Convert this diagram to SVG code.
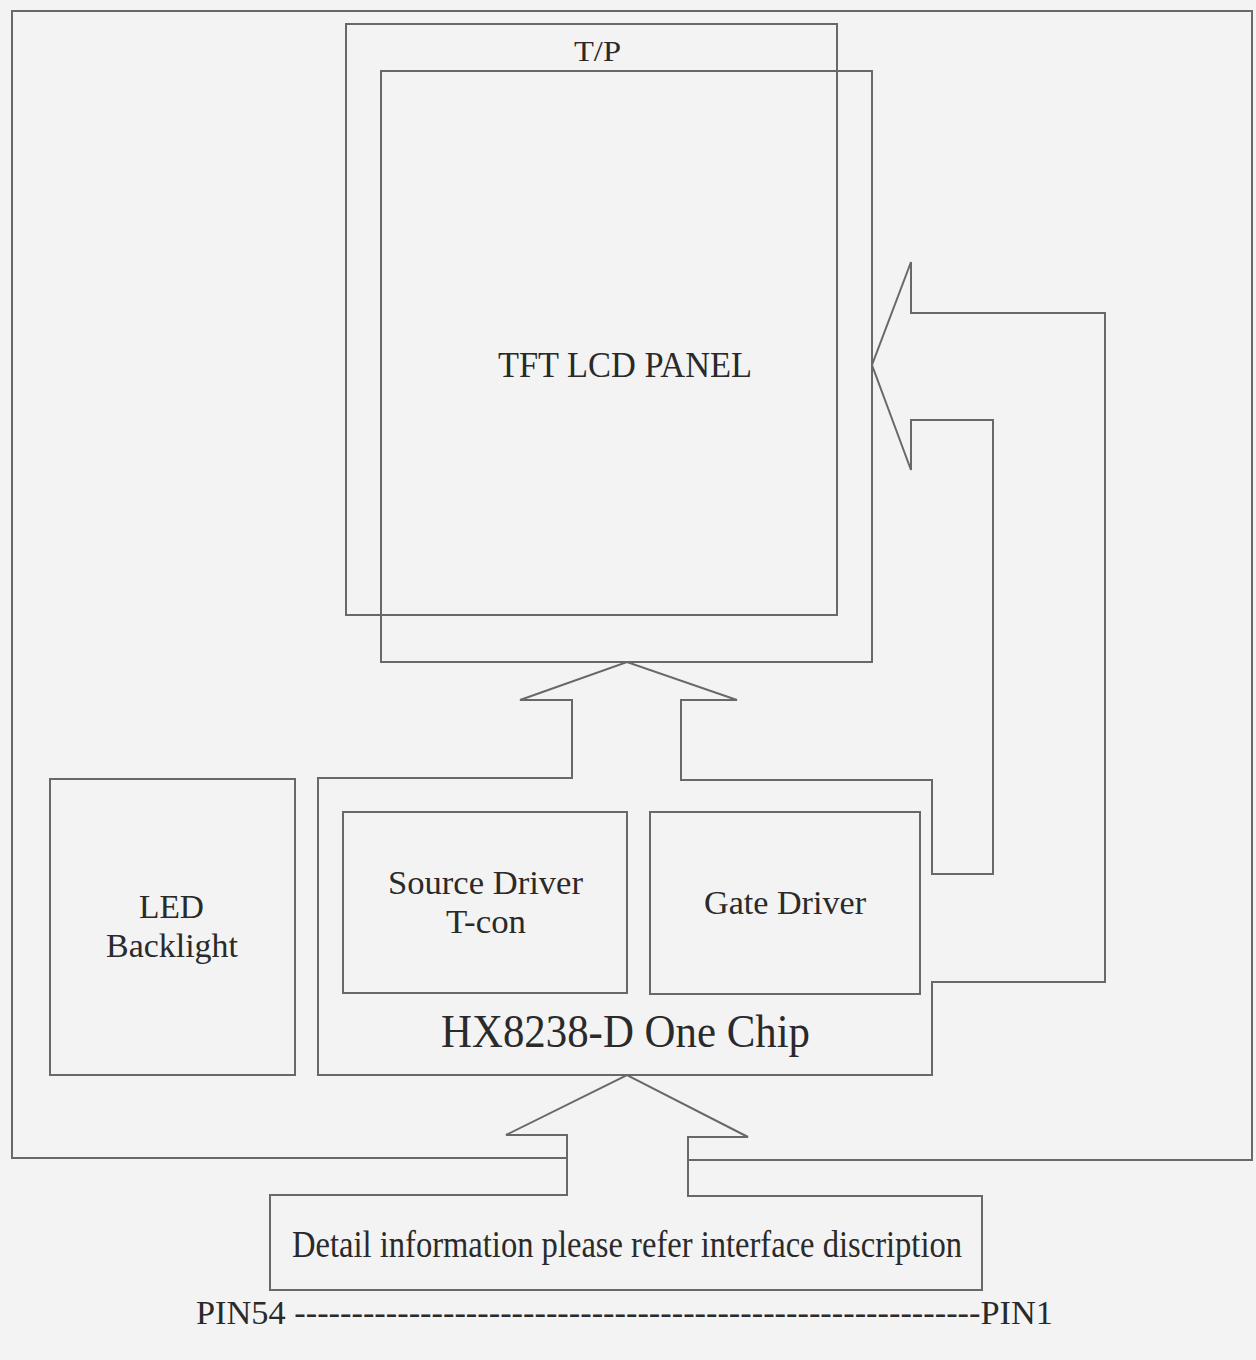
<svg xmlns="http://www.w3.org/2000/svg" width="1256" height="1360" viewBox="0 0 1256 1360">
<style>
.ln{fill:none;stroke:#686868;stroke-width:2;stroke-linejoin:miter;stroke-linecap:square}
.t{font-family:"Liberation Serif","Times New Roman",serif;fill:#2a2a2a}
</style>
<rect x="0" y="0" width="1256" height="1360" fill="#f3f3f3"/>
<g id="frame">
<path class="ln" d="M567,1158 H12 V11 H1252 V1160 H688"/>
</g>
<g id="tp">
<rect class="ln" x="346" y="24" width="491" height="591"/>
<text class="t" x="574" y="61" font-size="30" textLength="47" lengthAdjust="spacingAndGlyphs">T/P</text>
</g>
<g id="panel">
<rect class="ln" x="381" y="71" width="491" height="591"/>
<text class="t" x="498" y="377" font-size="35" textLength="254" lengthAdjust="spacingAndGlyphs">TFT LCD PANEL</text>
</g>
<g id="chip">
<path class="ln" d="M572,778 H318 V1075 H932 V982 M932,874 V780 H681"/>
<text class="t" x="441" y="1047" font-size="46" textLength="369" lengthAdjust="spacingAndGlyphs">HX8238-D One Chip</text>
</g>
<g id="source">
<rect class="ln" x="343" y="812" width="284" height="181"/>
<text class="t" x="388" y="894" font-size="34" textLength="195" lengthAdjust="spacingAndGlyphs">Source Driver</text>
<text class="t" x="446" y="933" font-size="34" textLength="80" lengthAdjust="spacingAndGlyphs">T-con</text>
</g>
<g id="gate">
<rect class="ln" x="650" y="812" width="270" height="182"/>
<text class="t" x="704" y="914" font-size="34" textLength="162" lengthAdjust="spacingAndGlyphs">Gate Driver</text>
</g>
<g id="led">
<rect class="ln" x="50" y="779" width="245" height="296"/>
<text class="t" x="139" y="918" font-size="34" textLength="65" lengthAdjust="spacingAndGlyphs">LED</text>
<text class="t" x="106" y="957" font-size="34" textLength="132" lengthAdjust="spacingAndGlyphs">Backlight</text>
</g>
<g id="detail">
<path class="ln" d="M567,1195 H270 V1290 H982 V1196 H688"/>
<text class="t" x="292" y="1257" font-size="38" textLength="670" lengthAdjust="spacingAndGlyphs">Detail information please refer interface discription</text>
</g>
<g id="pins">
<text class="t" x="196" y="1324" font-size="34" textLength="857" lengthAdjust="spacingAndGlyphs">PIN54 ------------------------------------------------------------PIN1</text>
</g>
<g id="connectors">
<path class="ln" d="M572,778 V700 H520 L627,662 L737,700 H681 V780"/>
<path class="ln" d="M932,874 H993 V420 H911 V470 L872,365 L911,262 V313 H1105 V982 H932"/>
<path class="ln" d="M567,1195 V1135 H506 L627,1075 L748,1137 H688 V1196"/>
</g>
</svg>
